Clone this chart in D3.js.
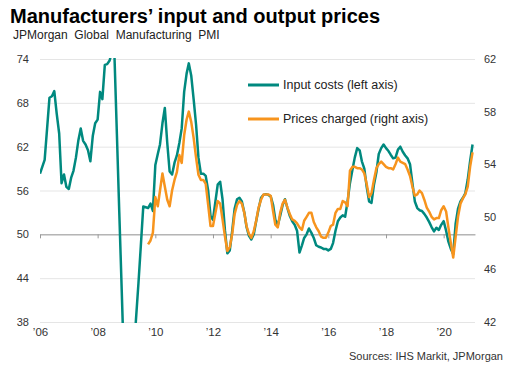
<!DOCTYPE html>
<html>
<head>
<meta charset="utf-8">
<script src="https://cdn.jsdelivr.net/npm/d3@7"></script>
<style>
  body { margin: 0; background: #fff; }
  svg { font-family: "Liberation Sans", Arial, sans-serif; }
</style>
</head>
<body>
<div id="chart"></div>
<script>
// input costs (left axis), monthly from Jan 2006
const inputCosts = [
  58.3, 59.3, 60.2, 64.5, 68.7, 68.9, 69.6, 66.5, 63.8, 57.0, 58.2, 56.5,   // 2006
  56.2, 57.8, 58.7, 60.5, 62.8, 64.5, 62.8, 62.3, 61.5, 60.0, 63.5, 65.2,   // 2007
  65.7, 69.5, 68.5, 73.2, 73.3, 73.8, 75.0, 74.5, 63.7, 53.1, 42.4, 31.8,   // 2008
  29.5, 30.0, 30.5, 33.5, 38.4, 43.3, 48.4, 53.8, 53.7, 53.6, 54.2, 53.2,   // 2009
  59.5, 61.0, 62.3, 65.2, 67.3, 62.5, 58.6, 58.2, 59.8, 60.8, 62.5, 64.5,   // 2010
  69.5, 72.0, 73.4, 71.7, 68.5, 65.0, 60.5, 58.3, 58.3, 58.0, 56.0, 52.5,   // 2011
  52.0, 54.5, 56.8, 57.2, 54.8, 50.5, 47.4, 47.8, 50.5, 53.5, 54.8, 55.0,   // 2012
  54.5, 53.0, 51.0, 49.8, 49.3, 50.0, 51.8, 53.5, 55.0, 55.4, 55.5, 55.4,   // 2013
  55.2, 54.0, 52.0, 51.2, 52.5, 54.0, 54.8, 53.6, 52.5, 51.8, 51.3, 50.5,   // 2014
  47.5, 48.5, 49.5, 50.0, 50.8, 50.2, 49.5, 48.5, 48.3, 48.2, 48.0, 48.0,   // 2015
  47.8, 48.0, 48.8, 50.5, 51.8, 52.3, 52.6, 52.4, 54.5, 57.0, 58.8, 60.5,   // 2016
  61.8, 61.5, 60.0, 59.0, 56.5, 54.5, 54.3, 56.8, 58.5, 61.0, 61.8, 62.3,   // 2017
  61.8, 61.4, 60.9, 60.4, 60.5, 61.6, 62.0, 61.3, 60.8, 60.4, 59.6, 57.0,   // 2018
  54.5, 53.6, 53.3, 53.2, 52.8, 52.3, 51.7, 51.0, 50.4, 50.9, 50.6, 51.3,   // 2019
  51.8, 50.5, 49.0, 48.0, 47.3, 51.5, 53.5, 54.5, 55.0, 55.6, 57.5, 60.0,   // 2020
  62.3                                                                     // 2021
];

// prices charged (right axis), monthly from Oct 2009
const pricesCharged = [
  47.9, 48.2, 48.8,                                                         // 2009
  51.5, 50.8, 52.0, 53.3, 52.3, 51.3, 50.8, 52.0, 52.8, 53.4, 54.7, 54.1,   // 2010
  56.2, 57.4, 58.0, 57.2, 56.0, 54.5, 53.2, 52.8, 52.8, 52.5, 50.9, 49.3,   // 2011
  49.3, 50.3, 51.2, 51.0, 49.8, 48.5, 47.4, 47.7, 48.7, 50.2, 50.9, 51.2,   // 2012
  51.0, 50.3, 49.3, 48.7, 48.4, 48.9, 49.7, 50.7, 51.3, 51.7, 51.7, 51.7,   // 2013
  51.6, 50.4, 49.4, 49.2, 50.3, 51.0, 51.3, 50.7, 50.2, 49.8, 49.7, 49.5,   // 2014
  49.2, 49.0, 49.7, 50.0, 50.3, 50.3, 49.6, 49.2, 48.9, 48.5, 48.4, 48.4,   // 2015
  48.8, 49.3, 49.4, 50.3, 50.6, 50.6, 51.2, 51.1, 50.8, 53.5, 53.8, 53.8,   // 2016
  53.7, 53.7, 53.6, 53.3, 52.5, 51.5, 51.8, 52.8, 53.7, 54.0, 54.2, 54.0,   // 2017
  53.8, 53.7, 53.7, 53.6, 54.0, 54.5, 54.2, 54.1, 54.0, 53.6, 53.1, 52.3,   // 2018
  51.6, 51.7, 52.0, 51.8, 51.3, 50.7, 50.4, 50.0, 49.8, 49.9, 49.9, 50.5,   // 2019
  50.8, 50.4, 49.2, 48.0, 46.9, 48.5, 50.0, 51.0, 51.4, 51.7, 52.3, 53.8,   // 2020
  54.9                                                                     // 2021
];

const leftTicks = [38, 44, 50, 56, 62, 68, 74];
const rightTicks = [42, 46, 50, 54, 58, 62];
const tickYears = [2006, 2008, 2010, 2012, 2014, 2016, 2018, 2020];

const seriesNames = ["Input costs (left axis)", "Prices charged (right axis)"];
const colors = ["#00897f", "#f7941d"];

const W = 513, H = 375;
const plot = { left: 40, right: 475, top: 59, bottom: 322 };

const svg = d3.select("#chart").append("svg")
  .attr("width", W)
  .attr("height", H);

const x = d3.scaleTime()
  .domain([new Date(2006, 0, 1), new Date(2021, 1, 1)])
  .range([plot.left, plot.right]);
const yL = d3.scaleLinear().domain([38, 74]).range([plot.bottom, plot.top]);
const yR = d3.scaleLinear().domain([42, 62]).range([plot.bottom, plot.top]);

const inputData = inputCosts.map((v, i) => ({ date: d3.timeMonth.offset(new Date(2006, 0, 1), i), value: v }));
const priceData = pricesCharged.map((v, i) => ({ date: d3.timeMonth.offset(new Date(2009, 9, 1), i), value: v }));

svg.append("defs").append("clipPath").attr("id", "clip")
  .append("rect")
  .attr("x", plot.left)
  .attr("y", plot.top - 1)
  .attr("width", plot.right - plot.left)
  .attr("height", plot.bottom - plot.top + 2);

// titles
svg.append("text")
  .attr("x", 10).attr("y", 23)
  .style("font-size", "20px").style("font-weight", "bold").style("fill", "#000")
  .text("Manufacturers’ input and output prices");

svg.append("text")
  .attr("x", 13).attr("y", 39)
  .style("font-size", "12px").style("word-spacing", "3.3px").style("fill", "#222")
  .text("JPMorgan Global Manufacturing PMI");

// left axis + gridlines
const gL = svg.append("g")
  .attr("transform", "translate(" + plot.left + ",0)")
  .call(d3.axisLeft(yL).tickValues(leftTicks).tickSize(-(plot.right - plot.left)).tickPadding(11));
gL.select(".domain").remove();
gL.selectAll("line").attr("stroke", "#e5e5e5").attr("stroke-width", 1);
gL.selectAll("text").style("font-size", "11px").style("fill", "#333");

// right axis
const gR = svg.append("g")
  .attr("transform", "translate(" + plot.right + ",0)")
  .call(d3.axisRight(yR).tickValues(rightTicks).tickSize(0).tickPadding(9));
gR.select(".domain").remove();
gR.selectAll("text").style("font-size", "11px").style("fill", "#333");

// x axis line at 50 with tick marks
const gX = svg.append("g")
  .attr("transform", "translate(0," + yL(50) + ")")
  .call(d3.axisBottom(x)
    .tickValues(tickYears.map(y => new Date(y, 0, 1)))
    .tickSize(4).tickSizeOuter(0).tickFormat(""));
gX.select(".domain").attr("stroke", "#9a9a9a");
gX.selectAll("line").attr("stroke", "#9a9a9a");

// x labels at the bottom
const gXL = svg.append("g")
  .attr("transform", "translate(0," + plot.bottom + ")")
  .call(d3.axisBottom(x)
    .tickValues(tickYears.map(y => new Date(y, 0, 1)))
    .tickSize(0).tickPadding(6)
    .tickFormat(d => "’" + String(d.getFullYear()).slice(2)));
gXL.select(".domain").remove();
gXL.selectAll("text").style("font-size", "11.5px").style("fill", "#333");

// lines
const lineL = d3.line().x(d => x(d.date)).y(d => yL(d.value));
const lineR = d3.line().x(d => x(d.date)).y(d => yR(d.value));

svg.append("path")
  .datum(inputData)
  .attr("clip-path", "url(#clip)")
  .attr("fill", "none")
  .attr("stroke", colors[0])
  .attr("stroke-width", 2.5)
  .attr("stroke-linejoin", "round")
  .attr("d", lineL);

svg.append("path")
  .datum(priceData)
  .attr("clip-path", "url(#clip)")
  .attr("fill", "none")
  .attr("stroke", colors[1])
  .attr("stroke-width", 2.5)
  .attr("stroke-linejoin", "round")
  .attr("d", lineR);

// legend
const legend = svg.append("g").attr("transform", "translate(248,85)");
seriesNames.forEach((name, i) => {
  const row = legend.append("g").attr("transform", "translate(0," + i * 34 + ")");
  row.append("line")
    .attr("x1", 0).attr("x2", 31)
    .attr("stroke", colors[i]).attr("stroke-width", 3);
  row.append("text")
    .attr("x", 35).attr("dy", "0.35em")
    .style("font-size", "12.5px").style("fill", "#222")
    .text(name);
});

// source
svg.append("text")
  .attr("x", 503).attr("y", 360)
  .attr("text-anchor", "end")
  .style("font-size", "11px").style("fill", "#333")
  .text("Sources: IHS Markit, JPMorgan");
</script>
</body>
</html>
